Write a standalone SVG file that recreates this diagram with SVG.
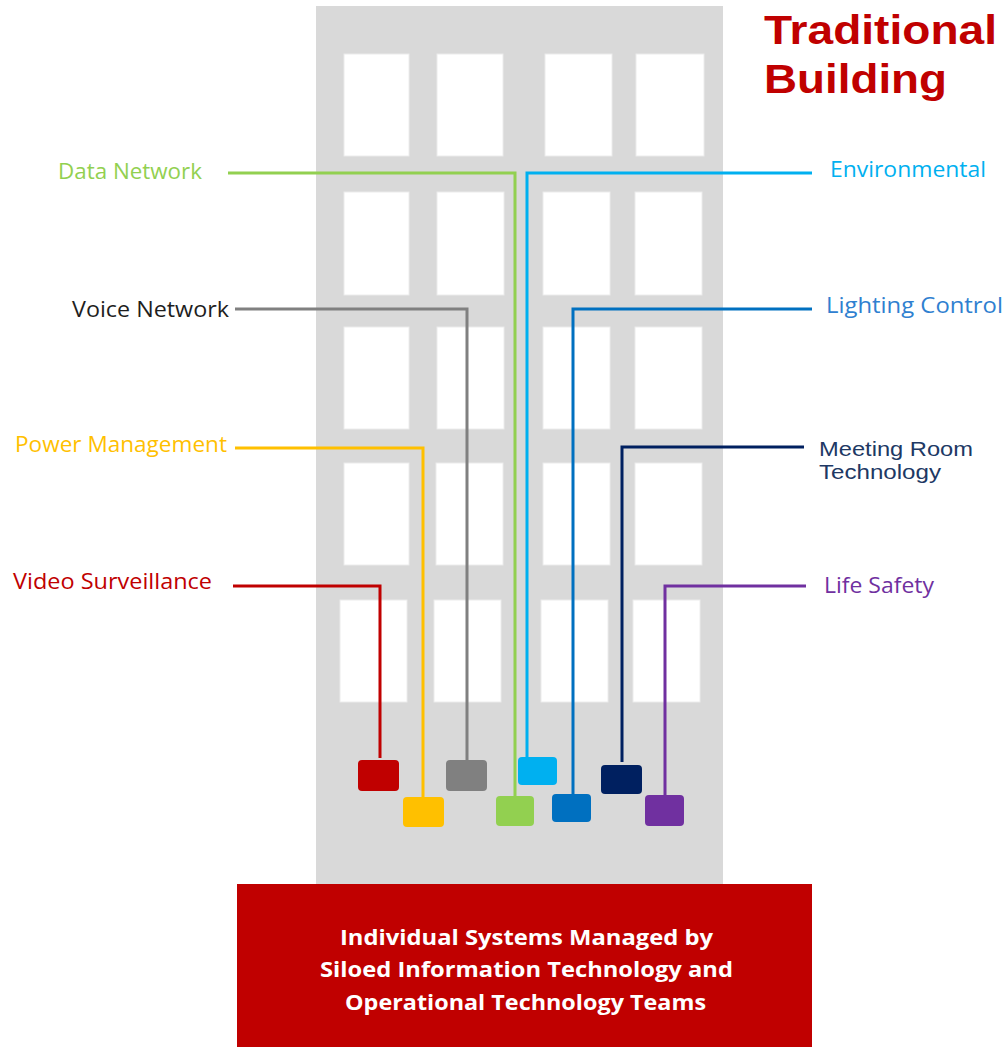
<svg xmlns="http://www.w3.org/2000/svg" width="1008" height="1047" viewBox="0 0 1008 1047">
<style>
.win{fill:#ffffff;stroke:#ececec;stroke-width:1}
.lbl{font-family:"Open Sans","Liberation Sans",sans-serif;font-size:21px}
.lbl2{font-family:"Liberation Sans","Open Sans",sans-serif;font-size:20px}
.wire{fill:none;stroke-width:3;stroke-linejoin:miter}
.box{stroke:none}
.title{font-family:"Liberation Sans","Open Sans",sans-serif;font-size:40px;font-weight:bold;fill:#C00000}
.ban{font-family:"Open Sans","Liberation Sans",sans-serif;font-size:21px;font-weight:bold;fill:#ffffff}
</style>
<rect width="1008" height="1047" fill="#ffffff"/>
<g id="building">
<rect x="316" y="6" width="407" height="880" fill="#D9D9D9"/>
<rect class="win" x="344" y="54" width="65" height="102"/>
<rect class="win" x="437" y="54" width="66" height="102"/>
<rect class="win" x="545" y="54" width="67" height="102"/>
<rect class="win" x="636" y="54" width="68" height="102"/>
<rect class="win" x="344" y="192" width="65" height="103"/>
<rect class="win" x="437" y="192" width="67" height="103"/>
<rect class="win" x="543" y="192" width="67" height="103"/>
<rect class="win" x="635" y="192" width="67" height="103"/>
<rect class="win" x="344" y="327" width="65" height="102"/>
<rect class="win" x="437" y="327" width="67" height="102"/>
<rect class="win" x="543" y="327" width="67" height="102"/>
<rect class="win" x="635" y="327" width="67" height="102"/>
<rect class="win" x="344" y="463" width="65" height="102"/>
<rect class="win" x="436" y="463" width="67" height="102"/>
<rect class="win" x="543" y="463" width="67" height="102"/>
<rect class="win" x="635" y="463" width="67" height="102"/>
<rect class="win" x="340" y="600" width="67" height="102"/>
<rect class="win" x="434" y="600" width="67" height="102"/>
<rect class="win" x="541" y="600" width="67" height="102"/>
<rect class="win" x="633" y="600" width="67" height="102"/>
</g>
<g id="title">
<text class="title" x="764" y="44" textLength="233" lengthAdjust="spacingAndGlyphs">Traditional</text>
<text class="title" x="764" y="93" textLength="183" lengthAdjust="spacingAndGlyphs">Building</text>
</g>
<g id="connectors">
<polyline class="wire" stroke="#92D050" points="228,173 515,173 515,797"/>
<polyline class="wire" stroke="#00B0F0" points="812,173 527,173 527,758"/>
<polyline class="wire" stroke="#808080" points="235,309 467,309 467,761"/>
<polyline class="wire" stroke="#0070C0" points="812,309 573,309 573,795"/>
<polyline class="wire" stroke="#FFC000" points="235,448 423,448 423,798"/>
<polyline class="wire" stroke="#002060" points="804,447 622,447 622,762"/>
<polyline class="wire" stroke="#C00000" points="233,586 380,586 380,758"/>
<polyline class="wire" stroke="#7030A0" points="806,586 665,586 665,796"/>
</g>
<g id="data-network">
<text class="lbl" x="58" y="179" fill="#92D050" textLength="144" lengthAdjust="spacingAndGlyphs">Data Network</text>
<rect class="box" x="496" y="796" width="38" height="30" rx="4" fill="#92D050"/>
</g>
<g id="environmental">
<text class="lbl" x="830" y="177" fill="#00B0F0" textLength="156" lengthAdjust="spacingAndGlyphs">Environmental</text>
<rect class="box" x="518" y="757" width="39" height="28" rx="4" fill="#00B0F0"/>
</g>
<g id="voice-network">
<text class="lbl" x="72" y="317" fill="#1E1E1E" textLength="157" lengthAdjust="spacingAndGlyphs">Voice Network</text>
<rect class="box" x="446" y="760" width="41" height="31" rx="4" fill="#808080"/>
</g>
<g id="lighting-control">
<text class="lbl" x="826" y="313" fill="#2F80D0" textLength="177" lengthAdjust="spacingAndGlyphs">Lighting Control</text>
<rect class="box" x="552" y="794" width="39" height="28" rx="4" fill="#0070C0"/>
</g>
<g id="power-management">
<text class="lbl" x="15" y="452" fill="#FFC000" textLength="212" lengthAdjust="spacingAndGlyphs">Power Management</text>
<rect class="box" x="403" y="797" width="41" height="30" rx="4" fill="#FFC000"/>
</g>
<g id="meeting-room-technology">
<text class="lbl2" x="819" y="456" fill="#203864" textLength="154" lengthAdjust="spacingAndGlyphs">Meeting Room</text>
<text class="lbl2" x="819" y="479" fill="#203864" textLength="122" lengthAdjust="spacingAndGlyphs">Technology</text>
<rect class="box" x="601" y="765" width="41" height="29" rx="4" fill="#002060"/>
</g>
<g id="video-surveillance">
<text class="lbl" x="13" y="589" fill="#C00000" textLength="199" lengthAdjust="spacingAndGlyphs">Video Surveillance</text>
<rect class="box" x="358" y="760" width="41" height="31" rx="4" fill="#C00000"/>
</g>
<g id="life-safety">
<text class="lbl" x="824" y="593" fill="#7030A0" textLength="110" lengthAdjust="spacingAndGlyphs">Life Safety</text>
<rect class="box" x="645" y="795" width="39" height="31" rx="4" fill="#7030A0"/>
</g>
<g id="banner">
<rect x="237" y="884" width="575" height="163" fill="#C00000"/>
<text class="ban" x="340" y="945" textLength="373" lengthAdjust="spacingAndGlyphs">Individual Systems Managed by</text>
<text class="ban" x="320" y="977" textLength="413" lengthAdjust="spacingAndGlyphs">Siloed Information Technology and</text>
<text class="ban" x="345" y="1010" textLength="361" lengthAdjust="spacingAndGlyphs">Operational Technology Teams</text>
</g>
</svg>
